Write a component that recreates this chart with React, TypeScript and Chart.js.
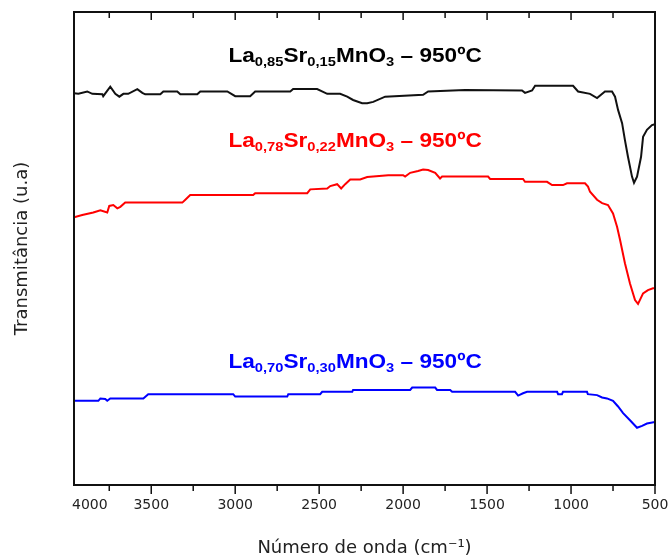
import React, { useEffect, useRef } from 'react';
import { Chart, registerables } from 'chart.js';

Chart.register(...registerables);

// Wavenumber (cm-1) and transmittance (u.a.)
const BLACK_X = [3960, 3934, 3881, 3851, 3791, 3786, 3744, 3714, 3690, 3666, 3637, 3583, 3553, 3536, 3446, 3428, 3345, 3327, 3226, 3208, 3047, 3000, 2911, 2881, 2672, 2655, 2512, 2452, 2375, 2333, 2298, 2244, 2214, 2178, 2107, 1881, 1851, 1631, 1292, 1274, 1232, 1214, 988, 958, 887, 845, 798, 756, 738, 720, 696, 679, 661, 637, 625, 607, 583, 571, 548, 518, 500];
const BLACK_Y = [82.8, 82.7, 83.2, 82.7, 82.6, 82.2, 84.2, 82.7, 82.1, 82.7, 82.7, 83.7, 82.9, 82.6, 82.6, 83.2, 83.2, 82.6, 82.6, 83.2, 83.2, 82.2, 82.2, 83.2, 83.2, 83.7, 83.7, 82.7, 82.7, 82.1, 81.4, 80.7, 80.7, 81.0, 82.1, 82.5, 83.2, 83.5, 83.4, 82.9, 83.4, 84.4, 84.4, 83.2, 82.7, 81.8, 83.2, 83.2, 82.1, 79.3, 76.5, 72.9, 69.4, 65.2, 63.9, 65.2, 69.4, 73.6, 75.1, 76.1, 76.3];

const RED_X = [3960, 3911, 3845, 3803, 3762, 3750, 3726, 3702, 3684, 3655, 3315, 3297, 3268, 2893, 2881, 2571, 2553, 2452, 2434, 2393, 2369, 2345, 2315, 2256, 2214, 2089, 2000, 1988, 1958, 1911, 1881, 1851, 1809, 1780, 1768, 1494, 1482, 1286, 1274, 1143, 1113, 1048, 1024, 917, 899, 887, 845, 815, 780, 750, 726, 708, 679, 649, 619, 601, 571, 542, 512, 500];
const RED_Y = [56.6, 57.1, 57.6, 58.1, 57.6, 59.0, 59.2, 58.5, 58.8, 59.7, 59.7, 60.3, 61.3, 61.3, 61.7, 61.7, 62.5, 62.7, 63.2, 63.6, 62.7, 63.6, 64.6, 64.6, 65.1, 65.5, 65.5, 65.2, 66.0, 66.4, 66.7, 66.6, 66.0, 64.8, 65.2, 65.2, 64.7, 64.7, 64.1, 64.1, 63.4, 63.4, 63.8, 63.8, 63.1, 62.0, 60.3, 59.6, 59.2, 57.4, 54.6, 51.8, 46.9, 42.6, 39.1, 38.3, 40.5, 41.2, 41.6, 41.6];

const BLUE_X = [3960, 3815, 3803, 3774, 3762, 3744, 3547, 3518, 3012, 3000, 2690, 2684, 2494, 2482, 2303, 2298, 1958, 1946, 1809, 1798, 1720, 1708, 1333, 1315, 1286, 1262, 1083, 1077, 1054, 1048, 905, 900, 845, 815, 786, 750, 720, 690, 649, 607, 577, 548, 500];
const BLUE_Y = [17.8, 17.8, 18.3, 18.2, 17.8, 18.3, 18.3, 19.2, 19.2, 18.7, 18.7, 19.2, 19.2, 19.7, 19.7, 20.1, 20.1, 20.6, 20.6, 20.1, 20.1, 19.7, 19.7, 18.9, 19.4, 19.7, 19.7, 19.2, 19.2, 19.7, 19.7, 19.2, 19.0, 18.5, 18.3, 17.8, 16.6, 15.2, 13.7, 12.1, 12.5, 13.0, 13.3];

const SERIES_COLORS = ['#111111', '#ff0000', '#0000ff'];
const LABEL_COLORS = ['#000000', '#ff0000', '#0000ff'];

// Axis
const X_MIN = 500;
const X_MAX = 3960;
const MAJOR_TICKS = [3500, 3000, 2500, 2000, 1500, 1000, 500];
const MINOR_TICKS = [3750, 3250, 2750, 2250, 1750, 1250, 750];
const EDGE_TICK_LABEL = '4000';
const X_TITLE = 'Número de onda (cm⁻¹)';
const Y_TITLE = 'Transmitância (u.a)';

// Curve labels: [text, isSubscript]
const LABEL_TEXTS: [string, boolean][][] = [
  [['La', false], ['0,85', true], ['Sr', false], ['0,15', true], ['MnO', false], ['3', true], [' – 950ºC', false]],
  [['La', false], ['0,78', true], ['Sr', false], ['0,22', true], ['MnO', false], ['3', true], [' – 950ºC', false]],
  [['La', false], ['0,70', true], ['Sr', false], ['0,30', true], ['MnO', false], ['3', true], [' – 950ºC', false]],
];
const LABEL_X = [2286, 2286, 2286];
const LABEL_Y = [89.4, 71.5, 24.7];

const FONT_FAMILY = '"Liberation Sans", Arial, sans-serif';
const AXIS_FONT = '"DejaVu Sans", sans-serif';

const framePlugin = {
  id: 'frame',
  afterDraw(chart: any) {
    const { ctx, chartArea, scales } = chart;
    const xs = scales.x;
    const { left, right, top, bottom } = chartArea;
    ctx.save();
    // ticks
    ctx.strokeStyle = '#111';
    ctx.lineWidth = 1.5;
    const drawTick = (v: number, lenB: number, lenT: number) => {
      const px = xs.getPixelForValue(v);
      ctx.beginPath();
      ctx.moveTo(px, bottom);
      ctx.lineTo(px, bottom + lenB);
      ctx.moveTo(px, top);
      ctx.lineTo(px, top + lenT);
      ctx.stroke();
    };
    MAJOR_TICKS.forEach((v) => drawTick(v, 9, 8));
    MINOR_TICKS.forEach((v) => drawTick(v, 6, 6));
    // frame
    ctx.lineWidth = 2;
    ctx.strokeRect(left, top, right - left, bottom - top);
    // tick labels
    ctx.fillStyle = '#222';
    ctx.font = '14px ' + AXIS_FONT;
    ctx.textBaseline = 'middle';
    ctx.textAlign = 'left';
    ctx.fillText(EDGE_TICK_LABEL, xs.getPixelForValue(X_MAX) - 2, bottom + 20);
    ctx.textAlign = 'center';
    MAJOR_TICKS.forEach((v) => {
      ctx.fillText(String(v), xs.getPixelForValue(v), bottom + 20);
    });
    // curve labels
    const ys = scales.y;
    const SX = 1.13;
    const mainFont = 'bold 20px ' + FONT_FAMILY;
    const subFont = 'bold 13px ' + FONT_FAMILY;
    ctx.textAlign = 'left';
    ctx.textBaseline = 'alphabetic';
    LABEL_TEXTS.forEach((segs, i) => {
      let w = 0;
      segs.forEach(([t, sub]) => {
        ctx.font = sub ? subFont : mainFont;
        w += ctx.measureText(t).width;
      });
      const cx = xs.getPixelForValue(LABEL_X[i]);
      const cy = ys.getPixelForValue(LABEL_Y[i]);
      ctx.save();
      ctx.translate(cx - (w * SX) / 2, cy);
      ctx.scale(SX, 1);
      ctx.fillStyle = LABEL_COLORS[i];
      let x = 0;
      segs.forEach(([t, sub]) => {
        ctx.font = sub ? subFont : mainFont;
        ctx.fillText(t, x, sub ? 4 : 0);
        x += ctx.measureText(t).width;
      });
      ctx.restore();
    });
    ctx.restore();
  },
};

function toPoints(xs: number[], ys: number[]) {
  return xs.map((x, i) => ({ x, y: ys[i] }));
}

export default function App() {
  const ref = useRef<HTMLCanvasElement>(null);
  useEffect(() => {
    document.body.style.margin = '0';
    const chart = new Chart(ref.current!, {
      type: 'line',
      data: {
        datasets: [
          { data: toPoints(BLACK_X, BLACK_Y), borderColor: SERIES_COLORS[0] },
          { data: toPoints(RED_X, RED_Y), borderColor: SERIES_COLORS[1] },
          { data: toPoints(BLUE_X, BLUE_Y), borderColor: SERIES_COLORS[2] },
        ].map((d) => ({ ...d, borderWidth: 2, pointRadius: 0, tension: 0, fill: false })),
      },
      options: {
        responsive: false,
        animation: false,
        layout: { padding: { top: 12, right: 14, left: 0, bottom: 0 } },
        plugins: { legend: { display: false }, tooltip: { enabled: false } },
        scales: {
          x: {
            type: 'linear',
            reverse: true,
            min: X_MIN,
            max: X_MAX,
            grid: { display: false },
            border: { display: false },
            ticks: { display: false },
            title: {
              display: true,
              text: X_TITLE,
              color: '#222',
              font: { family: AXIS_FONT, size: 18 },
              padding: { top: 0, bottom: -3 },
            },
            afterFit: (s: any) => {
              s.height = 71;
            },
          },
          y: {
            min: 0,
            max: 100,
            grid: { display: false },
            border: { display: false },
            ticks: { display: false },
            title: {
              display: true,
              text: Y_TITLE,
              color: '#222',
              font: { family: AXIS_FONT, size: 18 },
              padding: { top: 12, bottom: 0 },
            },
            afterFit: (s: any) => {
              s.width = 74;
            },
          },
        },
      },
      plugins: [framePlugin],
    });
    return () => chart.destroy();
  }, []);
  return <canvas ref={ref} width={669} height={556} />;
}
